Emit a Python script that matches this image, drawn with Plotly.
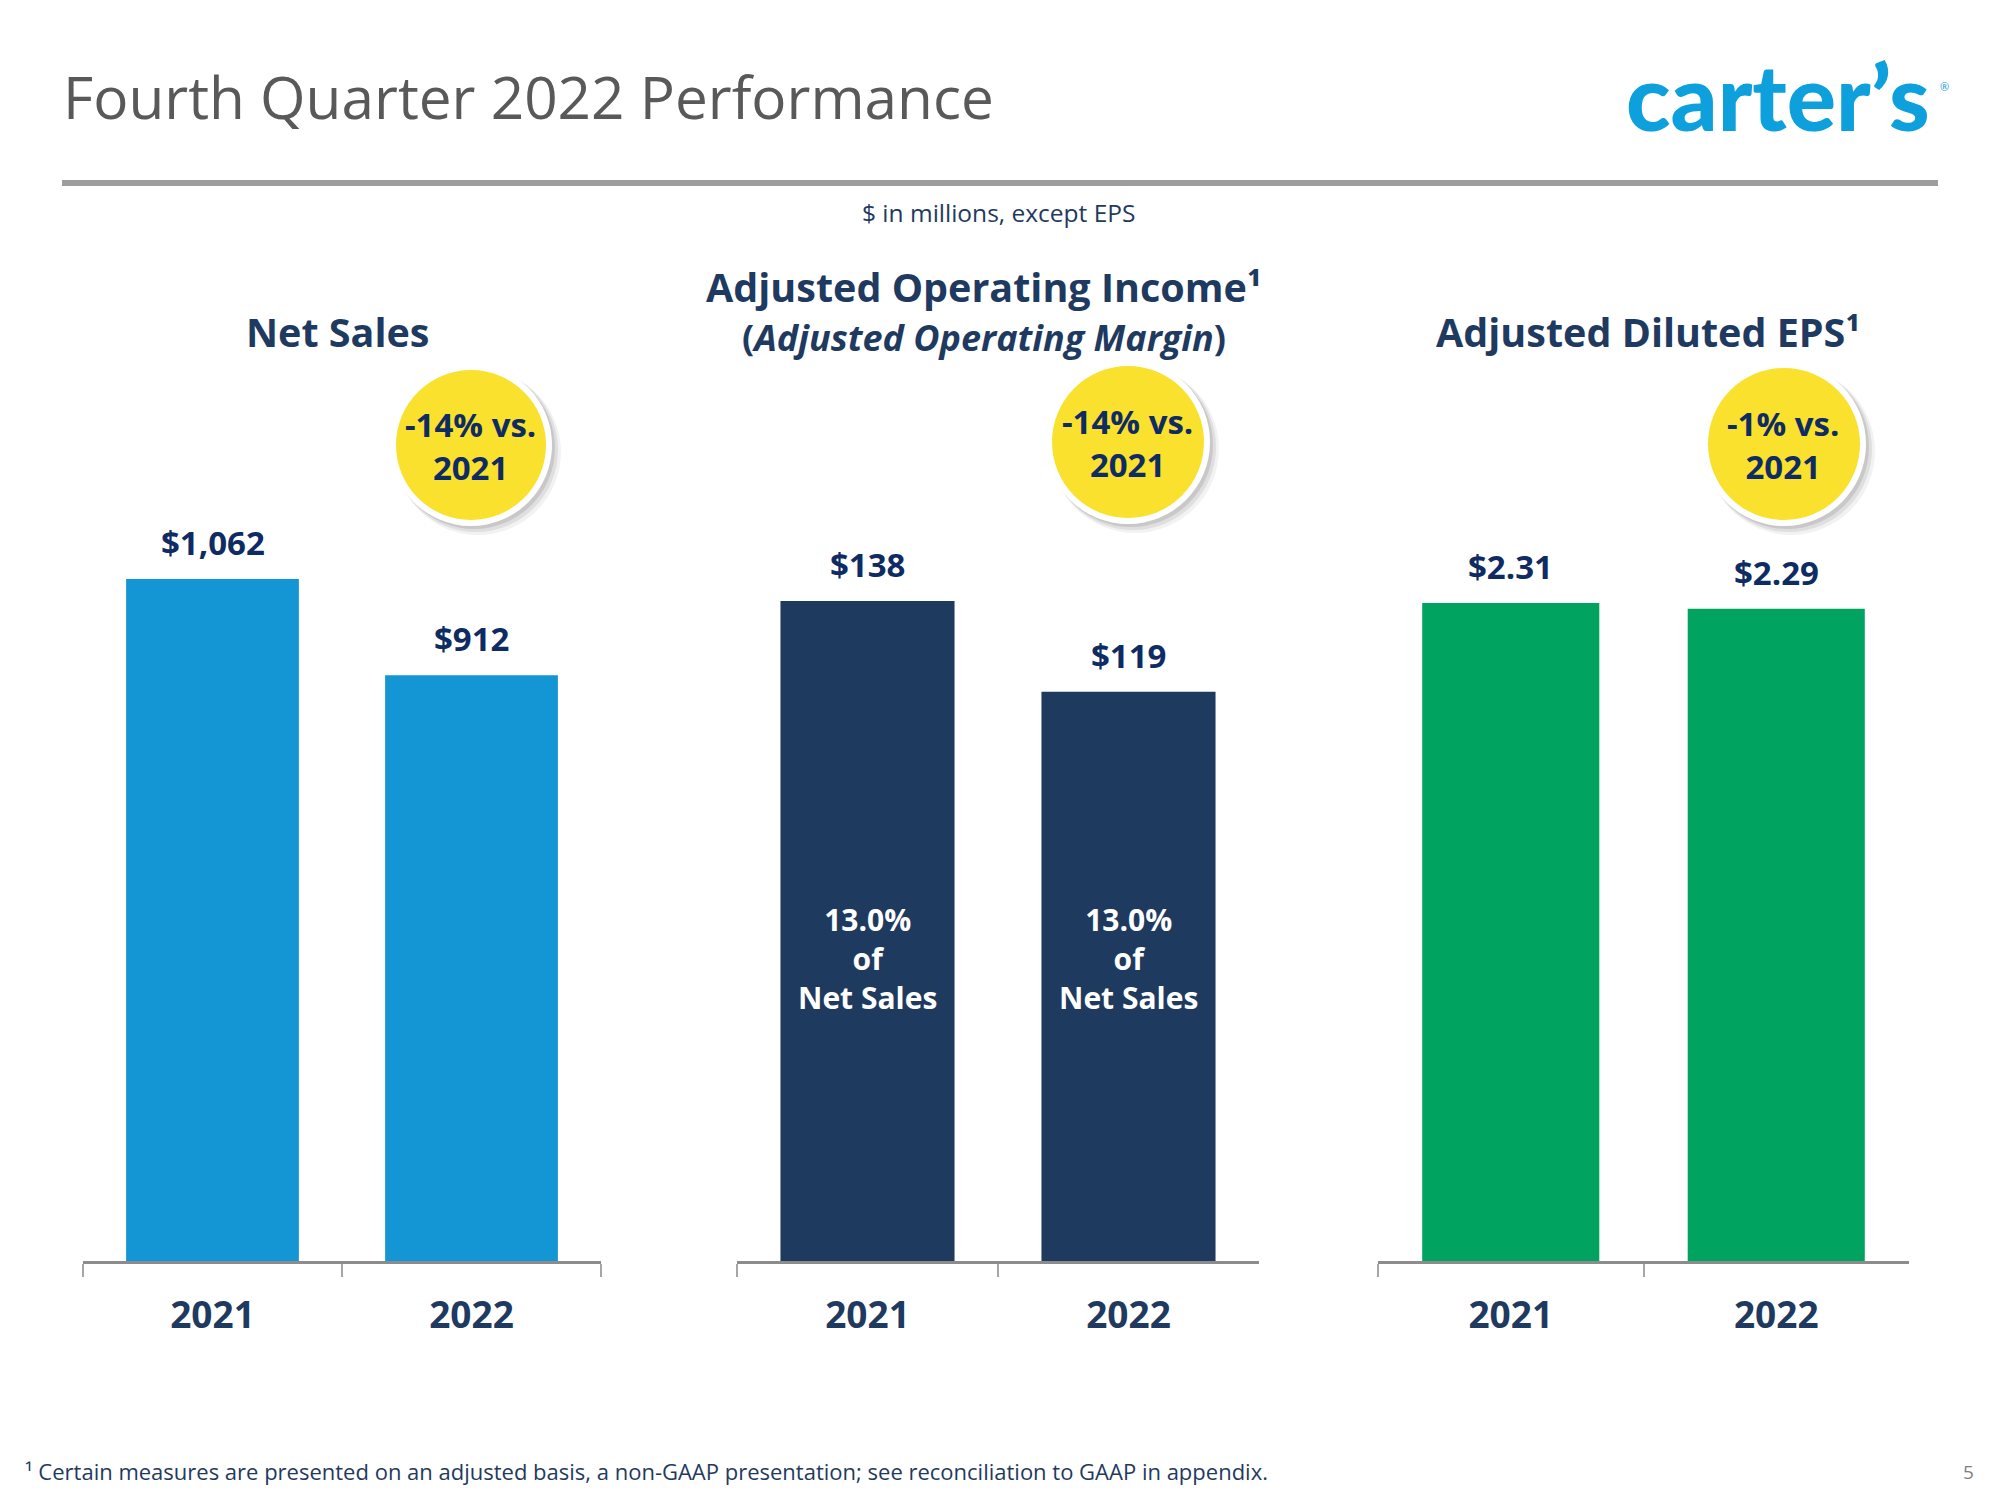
import plotly.graph_objects as go

W, H = 2000, 1500
OFF = 8  # page body margin compensation

# ---------------- data ----------------
years = ["2021", "2022"]
net_sales = [1062, 912]
net_sales_labels = ["$1,062", "$912"]
op_income = [138, 119]
op_income_labels = ["$138", "$119"]
op_margin_labels = ["13.0%<br>of<br>Net Sales", "13.0%<br>of<br>Net Sales"]
eps = [2.31, 2.29]
eps_labels = ["$2.31", "$2.29"]
change_labels = ["-14% vs.<br>2021", "-14% vs.<br>2021", "-1% vs.<br>2021"]
panel_titles = ["Net Sales", "Adjusted Operating Income¹", "Adjusted Diluted EPS¹"]
panel_subtitle = "(<i>Adjusted Operating Margin</i>)"

NAVY = "#1F3A60"
VAL = "#0F2B63"
FONT = "Open Sans"


def px(x):
    return (x - OFF) / W


def py(y):
    return 1 - (y - OFF) / H


panels = [
    dict(values=net_sales, labels=net_sales_labels, color="#1496D4",
         dom=[83, 601], ymax=1340.7, title_xy=(338, 332), bubble=(471, 445, 75)),
    dict(values=op_income, labels=op_income_labels, color="#1F3A5F",
         dom=[737, 1259], ymax=180.0, title_xy=(984, 287), bubble=(1128, 442, 76)),
    dict(values=eps, labels=eps_labels, color="#00A360",
         dom=[1378, 1909], ymax=3.0227, title_xy=(1648, 332), bubble=(1784, 444, 76)),
]

fig = go.Figure()
ydom = [py(1261), py(400)]
annotations = []
shapes = []

for i, p in enumerate(panels):
    ax = "" if i == 0 else str(i + 1)
    fig.add_trace(go.Bar(
        x=years, y=p["values"], marker=dict(color=p["color"], line=dict(width=0)),
        xaxis="x" + ax, yaxis="y" + ax, hoverinfo="skip", showlegend=False,
    ))
    fig.update_layout(**{
        "xaxis" + ax: dict(
            domain=[px(p["dom"][0]), px(p["dom"][1])], anchor="y" + ax,
            type="category", range=[-0.5, 1.5], showgrid=False, zeroline=False,
            showline=True, linecolor="#8C8C8C", linewidth=3,
            ticks="outside", tickson="boundaries", ticklen=13, tickwidth=1.5,
            tickcolor="#A6A6A6", ticklabelstandoff=20,
            tickfont=dict(family=FONT, size=37, color=NAVY, weight="bold"),
            fixedrange=True,
        ),
        "yaxis" + ax: dict(
            domain=ydom, anchor="x" + ax, range=[0, p["ymax"]], visible=False,
            fixedrange=True,
        ),
    })
    # value labels above bars (category index positions)
    for k, (v, lab) in enumerate(zip(p["values"], p["labels"])):
        annotations.append(dict(
            x=k, y=v, xref="x" + ax, yref="y" + ax, text=lab, showarrow=False,
            yanchor="bottom", yshift=12,
            font=dict(family=FONT, size=33, color=VAL, weight="bold"),
        ))
    # panel title
    tx, ty = p["title_xy"]
    annotations.append(dict(
        x=px(tx), y=py(ty), xref="paper", yref="paper", text=panel_titles[i],
        showarrow=False, xanchor="center", yanchor="middle",
        font=dict(family=FONT, size=39.5, color=NAVY, weight="bold"),
    ))
    # yellow bubble with white ring and shadow
    cx, cy, r = p["bubble"]
    for off, rad, col in [(7, r + 8, "rgba(0,0,0,0.05)"), (5, r + 7, "rgba(0,0,0,0.08)"),
                          (3, r + 6, "rgba(0,0,0,0.10)")]:
        shapes.append(dict(type="circle", xref="paper", yref="paper",
                           x0=px(cx + off - rad), x1=px(cx + off + rad),
                           y0=py(cy + off + rad), y1=py(cy + off - rad),
                           fillcolor=col, line=dict(width=0), layer="above"))
    shapes.append(dict(type="circle", xref="paper", yref="paper",
                       x0=px(cx - r - 6), x1=px(cx + r + 6),
                       y0=py(cy + r + 6), y1=py(cy - r - 6),
                       fillcolor="white", line=dict(width=0), layer="above"))
    shapes.append(dict(type="circle", xref="paper", yref="paper",
                       x0=px(cx - r), x1=px(cx + r), y0=py(cy + r), y1=py(cy - r),
                       fillcolor="#F9E12E", line=dict(width=0), layer="above"))
    annotations.append(dict(
        x=px(cx - 1), y=py(cy + 1), xref="paper", yref="paper", text=change_labels[i],
        showarrow=False, xanchor="center", yanchor="middle",
        font=dict(family=FONT, size=33, color=VAL, weight="bold"),
    ))

annotations.append(dict(
    x=px(984), y=py(338), xref="paper", yref="paper", text=panel_subtitle,
    showarrow=False, xanchor="center", yanchor="middle",
    font=dict(family=FONT, size=36, color=NAVY, weight="bold"),
))

# margin text inside operating-income bars (category index positions)
for k, lab in enumerate(op_margin_labels):
    annotations.append(dict(
        x=k, y=0, xref="x2", yref="y2", text=lab, showarrow=False,
        yanchor="bottom", yshift=241,
        font=dict(family=FONT, size=30, color="white", weight="bold"),
    ))

# header
annotations += [
    dict(x=px(61), y=py(96), xref="paper", yref="paper", xanchor="left", yanchor="middle",
         text="Fourth Quarter 2022 Performance", showarrow=False,
         font=dict(family=FONT, size=58.5, color="#595959")),
    dict(x=px(1932), y=py(96), xref="paper", yref="paper", xanchor="right", yanchor="middle",
         text="carter’s", showarrow=False,
         font=dict(family="Lato", size=92, color="#0EA0DC", weight=900)),
    dict(x=px(1944), y=py(86), xref="paper", yref="paper", xanchor="center", yanchor="middle",
         text="®", showarrow=False,
         font=dict(family=FONT, size=11, color="#0EA0DC")),
    dict(x=px(998), y=py(212), xref="paper", yref="paper", xanchor="center", yanchor="middle",
         text="$ in millions, except EPS", showarrow=False,
         font=dict(family=FONT, size=24.5, color=NAVY)),
    dict(x=px(23), y=py(1471), xref="paper", yref="paper", xanchor="left", yanchor="middle",
         text="¹ Certain measures are presented on an adjusted basis, a non-GAAP presentation; "
              "see reconciliation to GAAP in appendix.",
         showarrow=False, font=dict(family=FONT, size=22, color=NAVY)),
    dict(x=px(1968), y=py(1472), xref="paper", yref="paper", xanchor="center", yanchor="middle",
         text="5", showarrow=False, font=dict(family=FONT, size=19, color="#7F7F7F")),
]

shapes.append(dict(type="rect", xref="paper", yref="paper",
                   x0=px(62), x1=px(1938), y0=py(186), y1=py(180),
                   fillcolor="#9D9D9D", line=dict(width=0)))

fig.update_layout(
    width=W, height=H, margin=dict(l=0, r=0, t=0, b=0),
    paper_bgcolor="white", plot_bgcolor="white",
    bargap=0.333, showlegend=False,
    annotations=annotations, shapes=shapes,
)

fig.write_html("out.html", config={"displayModeBar": False})
